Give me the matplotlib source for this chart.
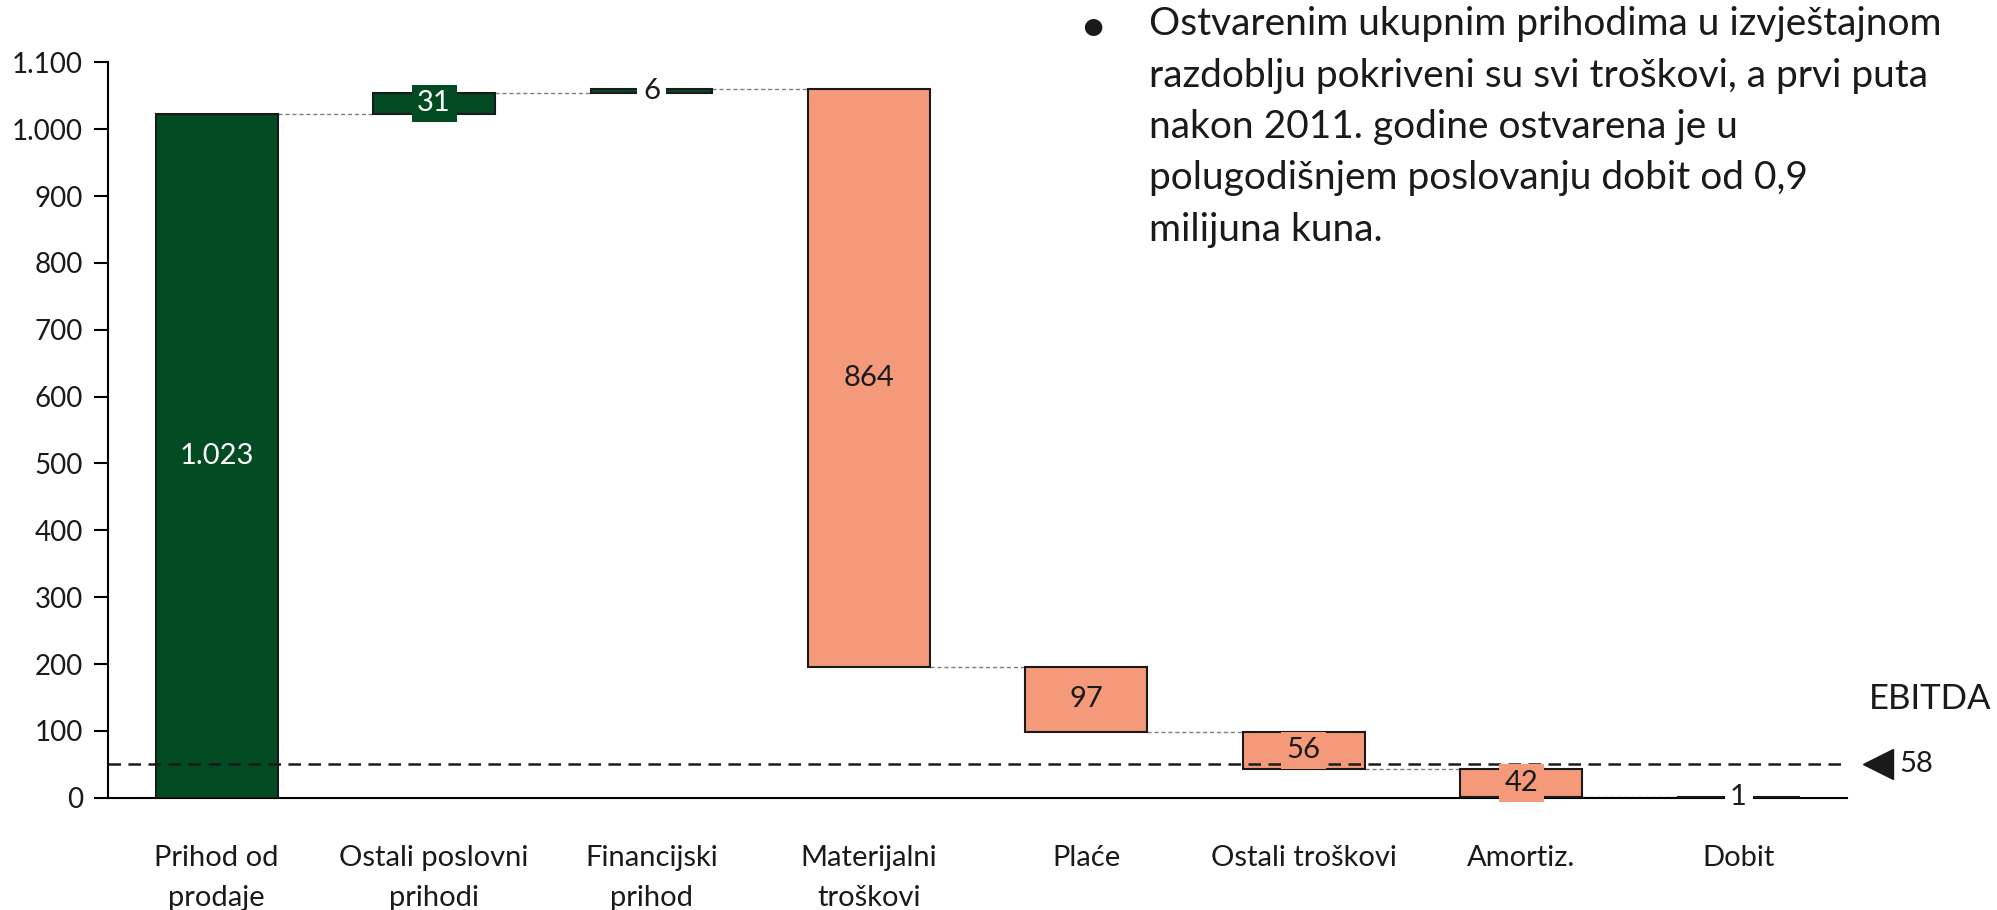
import matplotlib.pyplot as plt
from matplotlib.ticker import FuncFormatter

plt.rcParams['font.family'] = ['Lato', 'DejaVu Sans']

# podaci
categories = ['Prihod od\nprodaje', 'Ostali poslovni\nprihodi', 'Financijski\nprihod',
              'Materijalni\ntroškovi', 'Plaće', 'Ostali troškovi', 'Amortiz.', 'Dobit']
values = [1023, 31, 6, -864, -97, -56, -42, 1]
labels = ['1.023', '31', '6', '864', '97', '56', '42', '1']
kind = ['total', 'up', 'up', 'down', 'down', 'down', 'down', 'total']
ebitda_level = 50
ebitda_label = '58'

green = '#024b23'
salmon = '#f4997a'
text_col = '#1a1a1a'

# izračun početka i kraja svakog stupca
bottoms, tops = [], []
run = 0
for v, k in zip(values, kind):
    if k == 'total':
        b, t = 0, v
        run = v
    else:
        b, t = run, run + v
        run = run + v
    bottoms.append(min(b, t))
    tops.append(max(b, t))

fig = plt.figure(figsize=(19.97, 9.10), dpi=100)
ax = fig.add_axes([0.0541, 0.1234, 0.8709, 0.8081])

x = range(len(values))
w = 0.56
colors = [green if v > 0 and i < 3 else salmon for i, v in enumerate(values)]
colors[-1] = green
heights = [t - b for b, t in zip(bottoms, tops)]
ax.bar(x, heights, bottom=bottoms, width=w, color=colors, edgecolor='#1a1a1a', linewidth=1.5, zorder=3)

# spojne linije
for i in range(len(values) - 1):
    if kind[i] == 'total' or values[i] > 0:
        lvl = tops[i]
    else:
        lvl = bottoms[i]
    ax.plot([i + w / 2, i + 1 - w / 2], [lvl, lvl], color='#808080', lw=1, ls=(0, (3, 2)), zorder=2)

# oznake vrijednosti
fs = 21
for i, (b, t) in enumerate(zip(bottoms, tops)):
    mid = (b + t) / 2
    if i == 0:
        ax.text(i, mid, labels[i], ha='center', va='center', color='white', fontsize=fs, zorder=5)
    elif i == 1:
        ax.text(i, mid, labels[i], ha='center', va='center', color='white', fontsize=fs, zorder=5,
                bbox=dict(facecolor=green, edgecolor='none', pad=4))
    elif i in (2, 7):
        ax.text(i, mid, labels[i], ha='center', va='center', color=text_col, fontsize=fs, zorder=5,
                bbox=dict(facecolor='white', edgecolor='none', pad=4))
    elif i == 3:
        ax.text(i, mid, labels[i], ha='center', va='center', color=text_col, fontsize=fs, zorder=5)
    else:
        ax.text(i, mid, labels[i], ha='center', va='center', color=text_col, fontsize=fs, zorder=5,
                bbox=dict(facecolor=salmon, edgecolor='none', pad=4))

# EBITDA linija
ax.axhline(ebitda_level, color='#1a1a1a', lw=1.8, ls=(0, (5, 3)), zorder=4)
ax.plot([7.64], [ebitda_level], marker='<', color='#1a1a1a', markersize=22, clip_on=False)
ax.text(7.74, ebitda_level, ebitda_label, ha='left', va='center', fontsize=fs, color=text_col)
ax.text(7.6, 148, 'EBITDA', ha='left', va='center', fontsize=25, color=text_col)

ax.set_xlim(-0.5, 7.5)
ax.set_ylim(0, 1100)
ax.set_yticks(range(0, 1101, 100))
ax.yaxis.set_major_formatter(FuncFormatter(lambda v, p: f'{int(v):,}'.replace(',', '.')))
ax.set_xticks(list(x))
ax.set_xticklabels(categories, fontsize=fs, color=text_col, linespacing=1.65)
ax.tick_params(axis='x', length=0, pad=34)
ax.tick_params(axis='y', length=10, width=1.5, labelsize=20, labelcolor=text_col, pad=8)
for s in ['top', 'right']:
    ax.spines[s].set_visible(False)
ax.spines['left'].set_linewidth(1.5)
ax.spines['bottom'].set_linewidth(1.5)

# tekst s desne strane
fig.text(0.5405, 0.969, '•', fontsize=34, color=text_col, va='center')
fig.text(0.5755, 0.993,
         'Ostvarenim ukupnim prihodima u izvještajnom\n'
         'razdoblju pokriveni su svi troškovi, a prvi puta\n'
         'nakon 2011. godine ostvarena je u\n'
         'polugodišnjem poslovanju dobit od 0,9\n'
         'milijuna kuna.',
         fontsize=28, color=text_col, va='top', linespacing=1.53,
         transform=fig.transFigure)

plt.savefig('out.png', dpi=100)
